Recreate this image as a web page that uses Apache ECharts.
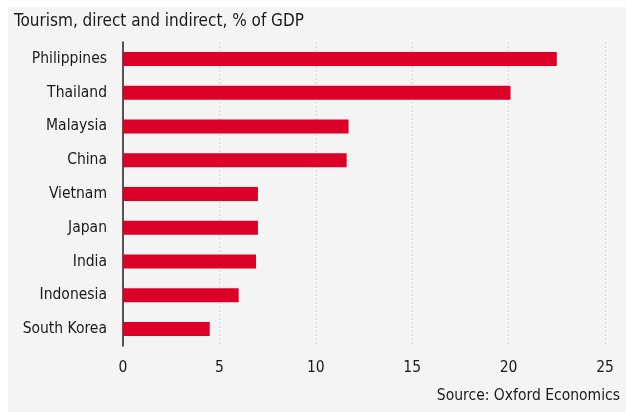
<!DOCTYPE html>
<html>
<head>
<meta charset="utf-8">
<script src="https://cdn.jsdelivr.net/npm/echarts@6/dist/echarts.min.js"></script>
<style>
html,body{margin:0;padding:0;background:#fff;}
#c{width:626px;height:412px;}
</style>
</head>
<body>
<div id="c"></div>
<script>
const categories = ["Philippines","Thailand","Malaysia","China","Vietnam","Japan","India","Indonesia","South Korea"];
const values = [22.5, 20.1, 11.7, 11.6, 7.0, 7.0, 6.9, 6.0, 4.5];
const titleText = "Tourism, direct and indirect, % of GDP";
const sourceText = "Source: Oxford Economics";
const FONT = '"DejaVu Sans Condensed", "Liberation Sans Narrow", sans-serif';

const chart = echarts.init(document.getElementById('c'), null, {renderer: 'canvas'});
chart.setOption({
  backgroundColor: '#ffffff',
  animation: false,
  graphic: [
    {type: 'rect', z: -10, shape: {x: 8, y: 7, width: 618, height: 405}, style: {fill: '#f4f4f4'}},
    {type: 'text', left: 14, top: 13, style: {text: titleText, font: '17px ' + FONT, fill: '#1a1a1a'}},
    {type: 'text', right: 6, top: 388, style: {text: sourceText, font: '15.5px ' + FONT, fill: '#1a1a1a'}}
  ],
  grid: {left: 123, right: 21, top: 42, bottom: 66, containLabel: false},
  xAxis: {
    type: 'value', min: 0, max: 25, interval: 5,
    axisLine: {show: false},
    axisTick: {show: false},
    axisLabel: {fontSize: 15.5, color: '#1a1a1a', fontFamily: FONT, margin: 14},
    splitLine: {show: true, lineStyle: {color: '#d6d6d6', type: [2, 2], width: 1}}
  },
  yAxis: {
    type: 'category', data: categories, inverse: true,
    axisLine: {show: true, lineStyle: {color: '#222', width: 1.5}},
    axisTick: {show: false},
    axisLabel: {fontSize: 15.5, color: '#1a1a1a', fontFamily: FONT, margin: 16}
  },
  series: [{
    type: 'bar', data: values, barWidth: 14,
    itemStyle: {color: '#dc0029'}
  }]
});
</script>
</body>
</html>
